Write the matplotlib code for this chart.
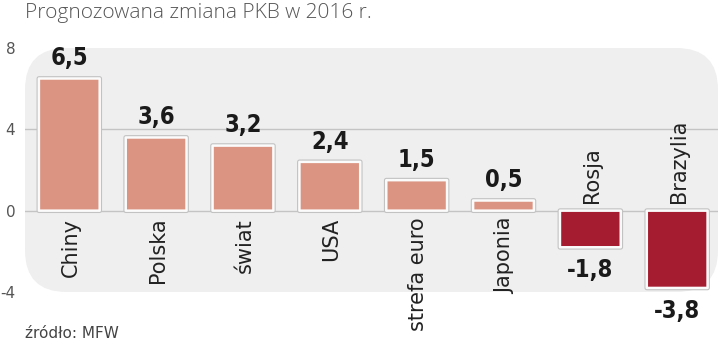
import matplotlib.pyplot as plt
from matplotlib.patches import FancyBboxPatch

kraje = ['Chiny', 'Polska', 'świat', 'USA', 'strefa euro', 'Japonia', 'Rosja', 'Brazylia']
pkb = [6.5, 3.6, 3.2, 2.4, 1.5, 0.5, -1.8, -3.8]
y_ticks = [-4, 0, 4, 8]

fig = plt.figure(figsize=(7.2, 3.45), dpi=100)
ax = fig.add_axes([25 / 720, 1 - 292 / 345, 693 / 720, 244 / 345])
ax.set_xlim(-0.51, 7.47)
ax.set_ylim(-4, 8)
ax.patch.set_visible(False)

# szare tło z zaokrąglonymi rogami
tlo = FancyBboxPatch((0, 0), 1, 1, boxstyle='round,pad=0,rounding_size=0.06',
                     mutation_aspect=693 / 244, transform=ax.transAxes,
                     facecolor='#efefef', edgecolor='none', zorder=0)
ax.add_patch(tlo)

for y in [0, 4]:
    ax.axhline(y, color='#c4c4c4', lw=1, zorder=1)

kolory = ['#dc9482' if v > 0 else '#a51c30' for v in pkb]
x = range(len(kraje))
# szary cień pod białą obwódką słupków
cien = ax.bar(x, pkb, width=0.70, color='none', edgecolor='#c2c2c2', linewidth=3.4,
              joinstyle='round', zorder=1.9)
slupki = ax.bar(x, pkb, width=0.70, color=kolory, edgecolor='#fbfbfb', linewidth=1.8,
                joinstyle='round', zorder=2)
for b in list(cien) + list(slupki):
    b.set_snap(False)

for i, (k, v) in enumerate(zip(kraje, pkb)):
    txt = f'{v:.1f}'.replace('.', ',')
    if v > 0:
        ax.text(i, v + 0.4, txt, ha='center', va='bottom', fontsize=17,
                fontweight='bold', fontstretch='condensed', color='#1a1a1a', zorder=3)
        ax.text(i + 0.02, -0.35, k, rotation=90, ha='center', va='top',
                fontsize=15, color='#222222', zorder=3)
    else:
        ax.text(i, v - 0.55, txt, ha='center', va='top', fontsize=17,
                fontweight='bold', fontstretch='condensed', color='#1a1a1a', zorder=3)
        ax.text(i + 0.02, 0.4, k, rotation=90, ha='center', va='bottom',
                fontsize=15, color='#222222', zorder=3)

ax.set_yticks(y_ticks)
ax.set_yticklabels([str(t) for t in y_ticks])
ax.tick_params(axis='y', length=0, pad=7, labelsize=11, labelcolor='#555555')
ax.set_xticks([])
for s in ax.spines.values():
    s.set_visible(False)

fig.text(25 / 720, 1 - 13 / 345, 'Prognozowana zmiana PKB w 2016 r.', ha='left', va='center',
         fontsize=15, color='#555555', family='Open Sans', fontweight='light')
fig.text(25 / 720, 1 - 334 / 345, 'źródło: MFW', ha='left', va='center',
         fontsize=11, color='#444444')

fig.savefig('out.png', dpi=100)
